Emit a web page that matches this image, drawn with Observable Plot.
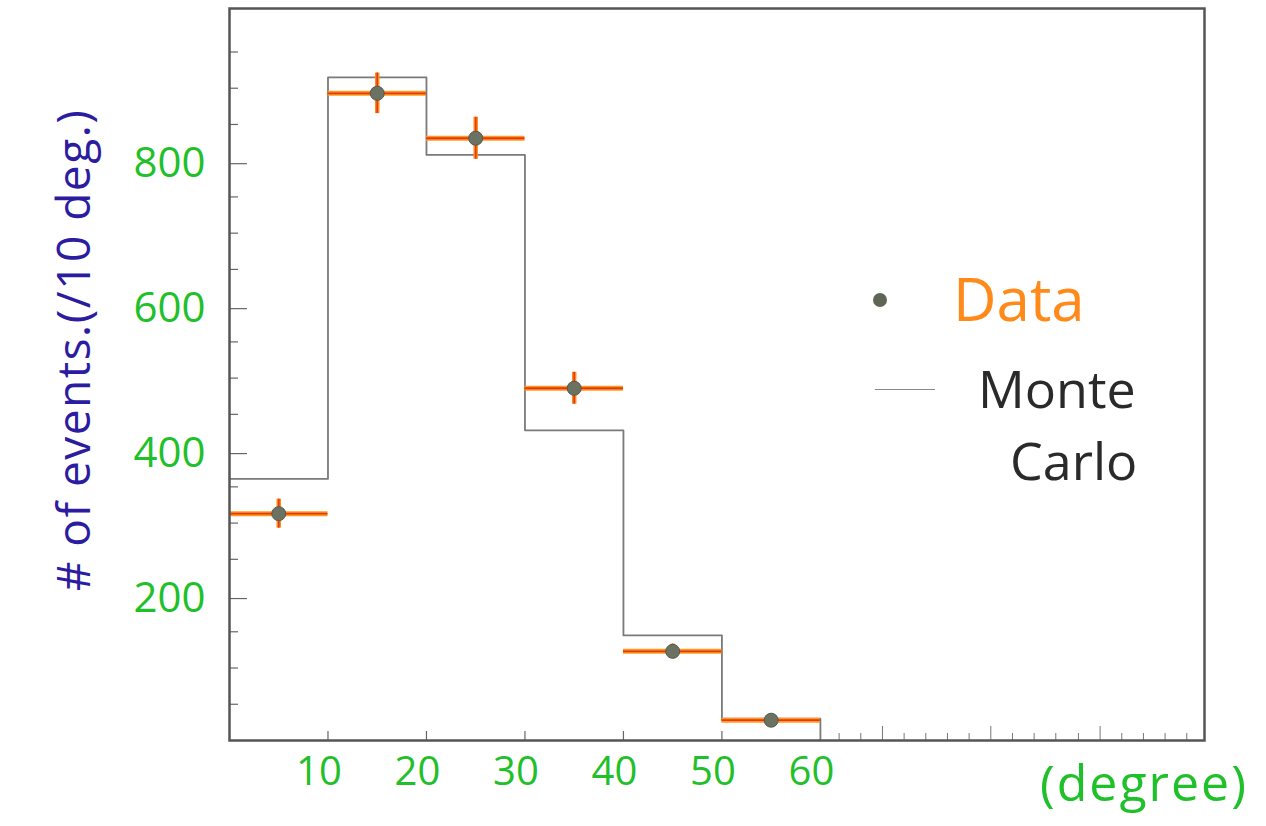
<!DOCTYPE html>
<html><head><meta charset="utf-8">
<script src="https://cdn.jsdelivr.net/npm/d3@7"></script>
<script src="https://cdn.jsdelivr.net/npm/@observablehq/plot@0.6"></script>
<style>
html,body{margin:0;padding:0;background:#fff;}
#wrap{position:relative;width:1266px;height:826px;overflow:hidden;}
.lbl{position:absolute;white-space:nowrap;font-family:"Open Sans",sans-serif;line-height:1;}
</style></head><body>
<div id="wrap"></div>
<script>
// ---- data ----
const binEdges = [0, 10, 20, 30, 40, 50, 60];
const mcCounts = [361, 915, 808, 428, 145, 30];
const binCenters = [5, 15, 25, 35, 45, 55];
const dataCounts = [313, 893, 831, 486, 123, 28];
const dataErrors = [20, 28, 29, 22, 10, 5];
const yTickLabels = [200, 400, 600, 800];
const yMinorTicks = [50,100,150,250,300,350,450,500,550,650,700,750,850,900,950];
const xTickLabels = [10, 20, 30, 40, 50, 60];
const xInnerTicks = [10, 20, 30, 40, 50];
const xExtraMinor = [61.9,64.1,68.5,70.7,72.9,75.1,79.5,81.7,83.9,86.2,90.6,92.8,95.0,97.2];
const xExtraMajor = [66.3, 77.3, 88.4];

// ---- derived tables ----
const mcStep = binEdges.map((e, i) => ({x: e, y: i < mcCounts.length ? mcCounts[i] : 0}));
const pts = binCenters.map((c, i) => ({
  c, lo: binEdges[i], hi: binEdges[i + 1], v: dataCounts[i], e: dataErrors[i]
}));

const green = "#1fc02a";
const chart = Plot.plot({
  width: 1266, height: 826,
  marginLeft: 229, marginRight: 62, marginTop: 8, marginBottom: 86,
  style: {fontFamily: "'Open Sans', sans-serif", background: "transparent"},
  x: {domain: [0, 99]},
  y: {domain: [0, 1010]},
  marks: [
    Plot.axisY(yMinorTicks, {tickSize: -9, stroke: "#666", strokeWidth: 1.2, text: null, label: null}),
    Plot.axisY(yTickLabels, {tickSize: -18, stroke: "#666", strokeWidth: 1.2, tickPadding: 42, fontSize: 42, fill: green, dy: 3, label: null}),
    Plot.axisX(xInnerTicks, {tickSize: -9, stroke: "#666", strokeWidth: 1.2, text: null, label: null}),
    Plot.axisX(xExtraMinor, {tickSize: -7, stroke: "#777", strokeWidth: 1, text: null, label: null}),
    Plot.axisX(xExtraMajor, {tickSize: -14, stroke: "#777", strokeWidth: 1, text: null, label: null}),
    Plot.axisX(xTickLabels, {tickSize: 0, tickPadding: 16, fontSize: 40, fill: green, dx: -9, label: null}),
    // Monte Carlo histogram
    Plot.lineY(mcStep, {x: "x", y: "y", curve: "step-after", stroke: "#7a7a7a", strokeWidth: 1.8}),
    // Data: horizontal bars (orange with red core)
    Plot.ruleY(pts, {y: "v", x1: "lo", x2: "hi", stroke: "#ff9a1c", strokeWidth: 5}),
    Plot.ruleY(pts, {y: "v", x1: "lo", x2: "hi", stroke: "#e2381a", strokeWidth: 1.8}),
    // Data: vertical error bars
    Plot.ruleX(pts, {x: "c", y1: d => d.v - d.e, y2: d => d.v + d.e, stroke: "#ff8c1a", strokeWidth: 4.5}),
    Plot.ruleX(pts, {x: "c", y1: d => d.v - d.e, y2: d => d.v + d.e, stroke: "#e2381a", strokeWidth: 1.6}),
    Plot.dot(pts, {x: "c", y: "v", r: 7, fill: "#6c7262", stroke: "#555a4c", strokeWidth: 1}),
    Plot.frame({stroke: "#555", strokeWidth: 2.5})
  ]
});
const wrap = document.getElementById("wrap");
wrap.appendChild(chart);

function addLabel(text, css) {
  const d = document.createElement("div");
  d.className = "lbl";
  d.textContent = text;
  Object.assign(d.style, css);
  wrap.appendChild(d);
  return d;
}
// y axis title (rotated)
addLabel("# of events.(/10 deg.)", {left: "72px", top: "350px", fontSize: "46px", letterSpacing: "1.5px", color: "#2b1ca0",
  transform: "translate(-50%,-50%) rotate(-90deg)"});
// x axis unit
addLabel("(degree)", {left: "1040px", top: "757px", fontSize: "50px", letterSpacing: "2px", color: green});
// legend
addLabel("", {left: "873px", top: "293px", width: "14px", height: "14px", borderRadius: "50%", background: "#5f6656"});
addLabel("", {left: "875px", top: "389px", width: "60px", height: "0", borderTop: "1.5px solid #888"});
addLabel("Data", {left: "953px", top: "268px", fontSize: "60px", color: "#ff8a1a"});
addLabel("Monte", {left: "978px", top: "362px", fontSize: "52px", color: "#2a2a2a"});
addLabel("Carlo", {left: "1010px", top: "434px", fontSize: "52px", color: "#2a2a2a"});
</script>
</body></html>
